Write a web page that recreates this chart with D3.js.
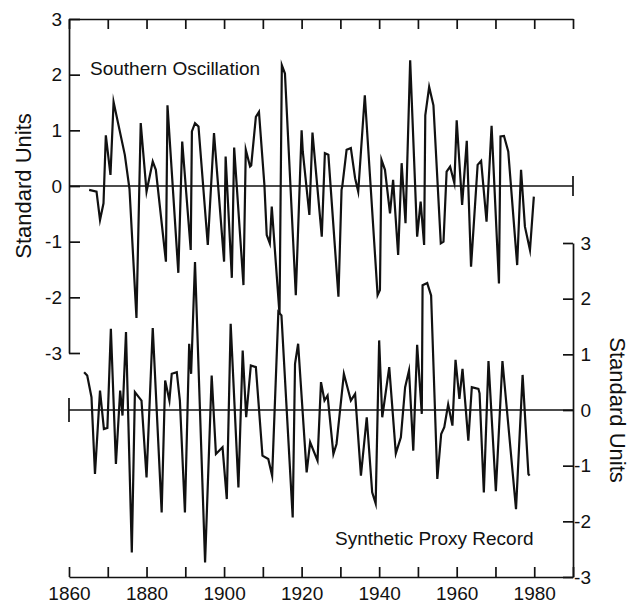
<!DOCTYPE html>
<html>
<head>
<meta charset="utf-8">
<script src="https://cdn.jsdelivr.net/npm/d3@7"></script>
<style>
  body { margin: 0; background: #fff; }
  svg text { font-family: "Liberation Sans", Arial, Helvetica, sans-serif; fill: #111; }
</style>
</head>
<body>
<svg id="chart" width="631" height="604"></svg>
<script>
// Southern Oscillation index (top trace)
var soiYears = [1865.2, 1867.1, 1868.0, 1868.9, 1869.5, 1870.7, 1871.5, 1874.4, 1875.6, 1877.4,
  1878.5, 1880.0, 1881.6, 1882.4, 1885.0, 1885.4, 1888.2, 1889.2, 1891.4, 1891.7,
  1892.5, 1893.4, 1895.8, 1897.4, 1900.0, 1900.4, 1902.0, 1902.6, 1905.0, 1905.6,
  1906.7, 1907.0, 1908.2, 1909.0, 1910.4, 1911.0, 1911.8, 1912.3, 1914.3, 1914.9,
  1915.7, 1918.5, 1920.0, 1920.3, 1922.0, 1922.8, 1925.2, 1926.0, 1926.9, 1929.5,
  1930.3, 1930.5, 1931.6, 1932.7, 1933.8, 1934.6, 1936.3, 1939.6, 1940.2, 1940.6,
  1941.5, 1942.8, 1943.6, 1944.9, 1945.8, 1946.8, 1948.0, 1949.8, 1950.7, 1951.6,
  1951.9, 1952.9, 1954.0, 1955.9, 1956.6, 1957.4, 1958.3, 1959.4, 1960.0, 1961.4,
  1962.6, 1963.7, 1965.4, 1966.3, 1967.7, 1969.0, 1970.9, 1971.3, 1972.2, 1973.3,
  1975.6, 1976.6, 1977.6, 1978.9, 1979.9];
var soiValues = [-0.07, -0.1, -0.61, -0.31, 0.91, 0.2, 1.51, 0.56, -0.05, -2.37,
  1.13, -0.1, 0.44, 0.29, -1.36, 1.45, -1.56, 0.8, -1.15, 0.98,
  1.13, 1.07, -1.06, 0.95, -1.36, 0.53, -1.65, 0.69, -1.78, 0.65,
  0.35, 0.37, 1.24, 1.33, 0.02, -0.88, -1.03, -0.37, -2.3, 2.17,
  2.02, -1.96, 1.0, 0.62, -0.52, 0.96, -0.91, 0.59, 0.56, -1.99,
  -0.07, 0.0, 0.65, 0.68, 0.14, -0.1, 1.63, -1.96, -1.87, 0.47,
  0.29, -0.49, 0.11, -1.24, 0.41, -0.67, 2.26, -0.91, -0.28, -1.06,
  1.27, 1.78, 1.45, -1.03, -1.0, 0.26, 0.35, 0.05, 1.18, -0.34,
  0.81, -1.45, 0.38, 0.45, -0.64, 1.08, -1.75, 0.89, 0.9, 0.62,
  -1.42, 0.29, -0.73, -1.15, -0.19];

// synthetic proxy record (bottom trace)
var proxyYears = [1863.9, 1864.7, 1865.8, 1866.7, 1868.0, 1869.0, 1869.9, 1870.8, 1872.1, 1873.2,
  1873.8, 1874.7, 1876.2, 1877.0, 1877.8, 1878.7, 1880.0, 1881.6, 1883.9, 1884.8,
  1885.9, 1886.5, 1887.8, 1888.6, 1889.9, 1891.0, 1891.5, 1892.5, 1895.1, 1896.8,
  1897.9, 1899.6, 1900.7, 1901.7, 1903.7, 1904.8, 1905.7, 1906.9, 1908.2, 1909.9,
  1911.4, 1912.4, 1914.0, 1914.8, 1917.7, 1918.3, 1919.1, 1921.3, 1922.2, 1924.1,
  1925.0, 1925.9, 1926.7, 1928.2, 1929.0, 1930.9, 1932.7, 1933.8, 1935.3, 1936.8,
  1938.2, 1939.1, 1940.0, 1940.8, 1942.6, 1944.3, 1945.6, 1946.7, 1947.7, 1948.8,
  1949.8, 1951.0, 1951.2, 1952.4, 1953.4, 1955.0, 1956.0, 1956.8, 1957.8, 1958.9,
  1959.7, 1960.7, 1961.5, 1963.0, 1963.9, 1965.6, 1965.9, 1967.0, 1968.2, 1970.1,
  1971.8, 1975.3, 1977.0, 1978.5, 1978.8];
var proxyValues = [0.68, 0.62, 0.23, -1.15, 0.35, -0.34, -0.32, 1.46, -0.97, 0.35,
  -0.1, 1.4, -2.56, 0.32, 0.25, 0.17, -1.21, 1.47, -1.84, 0.53,
  0.17, 0.65, 0.68, 0.17, -1.84, 1.19, 0.65, 2.66, -2.74, 0.62,
  -0.79, -0.67, -1.6, 1.55, -1.39, 1.07, -0.13, 0.8, 0.77, -0.82,
  -0.88, -1.18, 1.76, 1.7, -1.93, 0.83, 1.19, -1.12, -0.58, -0.91,
  0.5, 0.17, 0.26, -0.79, -0.61, 0.65, 0.17, 0.29, -1.18, -0.13,
  -1.48, -1.68, 1.25, -0.13, 0.77, -0.78, -0.49, 0.41, 0.71, -0.73,
  1.17, -0.07, 2.24, 2.28, 2.06, -1.24, -0.43, -0.31, 0.1, -0.28,
  0.9, 0.2, 0.74, -0.55, 0.41, 0.38, 0.3, -1.48, 0.88, -1.46,
  0.88, -1.78, 0.63, -1.15, -1.18];

var yearTicks = [1860, 1870, 1880, 1890, 1900, 1910, 1920, 1930, 1940, 1950, 1960, 1970, 1980, 1990];
var yearLabels = [1860, 1880, 1900, 1920, 1940, 1960, 1980];
var unitTicks = [-3, -2, -1, 0, 1, 2, 3];

var svg = d3.select("#chart");

var x = d3.scaleLinear().domain([1860, 1990]).range([69, 573]);
var yTop = d3.scaleLinear().domain([-3, 3]).range([353, 19]);
var yBot = d3.scaleLinear().domain([-3, 3]).range([577, 243]);

// plain hyphen minus like the original
var unitFormat = function(d) { return String(d); };

function styleAxis(g) {
  g.selectAll("path, line").attr("stroke", "#111").attr("stroke-width", 1.7);
  g.selectAll("text").attr("font-size", 19).attr("fill", "#111");
}

// top border with decade ticks pointing down
svg.append("g")
  .attr("transform", "translate(0," + yTop(3) + ")")
  .call(d3.axisBottom(x).tickValues(yearTicks).tickSize(10).tickSizeOuter(0).tickFormat(""))
  .call(styleAxis);

// bottom axis, ticks pointing up
var bottomAxis = svg.append("g")
  .attr("transform", "translate(0," + yBot(-3) + ")")
  .call(d3.axisBottom(x).tickValues(yearTicks).tickSize(-10).tickSizeOuter(0)
    .tickFormat(function(d) { return yearLabels.indexOf(d) >= 0 ? d : ""; }))
  .call(styleAxis);
bottomAxis.selectAll("text").attr("y", 10);

// left axis (southern oscillation)
svg.append("g")
  .attr("transform", "translate(" + x(1860) + ",0)")
  .call(d3.axisLeft(yTop).tickValues(unitTicks).tickSize(-11).tickSizeOuter(0).tickPadding(7)
    .tickFormat(unitFormat))
  .call(styleAxis);

// right axis (proxy)
var rightAxis = svg.append("g")
  .attr("transform", "translate(" + x(1990) + ",0)")
  .call(d3.axisRight(yBot).tickValues(unitTicks).tickSize(-10).tickSizeOuter(0).tickPadding(18)
    .tickFormat(unitFormat))
  .call(styleAxis);
rightAxis.selectAll("text").attr("text-anchor", "end");

// zero lines with end caps
svg.append("line")
  .attr("x1", x(1860)).attr("x2", x(1990))
  .attr("y1", yTop(0)).attr("y2", yTop(0))
  .attr("stroke", "#111").attr("stroke-width", 1.7);
svg.append("line")
  .attr("x1", x(1990)).attr("x2", x(1990))
  .attr("y1", yTop(0) - 10).attr("y2", yTop(0) + 10)
  .attr("stroke", "#111").attr("stroke-width", 1.7);
svg.append("line")
  .attr("x1", x(1860)).attr("x2", x(1990))
  .attr("y1", yBot(0)).attr("y2", yBot(0))
  .attr("stroke", "#111").attr("stroke-width", 1.7);
svg.append("line")
  .attr("x1", x(1860)).attr("x2", x(1860))
  .attr("y1", yBot(0) - 12).attr("y2", yBot(0) + 12)
  .attr("stroke", "#111").attr("stroke-width", 1.7);

// the two records
var soi = soiYears.map(function(d, i) { return [d, soiValues[i]]; });
var proxy = proxyYears.map(function(d, i) { return [d, proxyValues[i]]; });

svg.append("path")
  .datum(soi)
  .attr("fill", "none").attr("stroke", "#111").attr("stroke-width", 2.2)
  .attr("stroke-miterlimit", 8)
  .attr("d", d3.line().x(function(d) { return x(d[0]); }).y(function(d) { return yTop(d[1]); }));

svg.append("path")
  .datum(proxy)
  .attr("fill", "none").attr("stroke", "#111").attr("stroke-width", 2.2)
  .attr("stroke-miterlimit", 8)
  .attr("d", d3.line().x(function(d) { return x(d[0]); }).y(function(d) { return yBot(d[1]); }));

// labels
svg.append("text").attr("x", 90).attr("y", 75).attr("font-size", 19).text("Southern Oscillation");
svg.append("text").attr("x", 335).attr("y", 545).attr("font-size", 19).text("Synthetic Proxy Record");

svg.append("text")
  .attr("transform", "translate(31," + yTop(0) + ") rotate(-90)")
  .attr("text-anchor", "middle").attr("font-size", 22)
  .text("Standard Units");
svg.append("text")
  .attr("transform", "translate(610," + yBot(0) + ") rotate(90)")
  .attr("text-anchor", "middle").attr("font-size", 22)
  .text("Standard Units");
</script>
</body>
</html>
